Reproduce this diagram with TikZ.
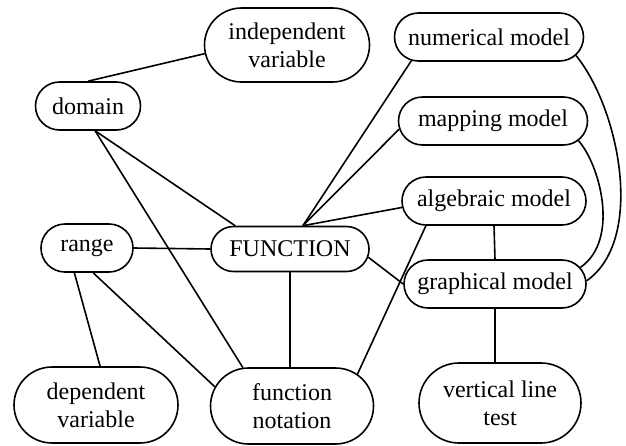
\documentclass[tikz,border=0pt]{standalone}
\usepackage{fontspec}
\setmainfont{Liberation Serif}
\usetikzlibrary{shapes.misc}

\tikzset{
  concept/.style={draw, rounded rectangle, line width=0.8pt, align=center,
    inner sep=2pt, minimum height=24pt,
    font=\fontsize{12}{14}\selectfont},
  tall/.style={concept, minimum height=38pt},
  link/.style={line width=0.8pt}
}

\begin{document}
\begin{tikzpicture}[x=0.5pt, y=-0.5pt]

% Picture frame (pixels of the original)
\useasboundingbox (0,0) rectangle (626,445);

% Concepts
\node[tall, minimum width=86.5pt, minimum height=37pt] (indep) at (287,45) {independent\\variable};
\node[concept, minimum width=56.5pt] (dom) at (88,106) {domain};
\node[concept, minimum width=98.5pt] (num) at (489,37) {numerical model};
\node[concept, minimum width=98.5pt] (map) at (493,121) {mapping model};
\node[concept, minimum width=96pt] (alg) at (494,201) {algebraic model};
\node[concept, minimum width=83pt, minimum height=22.5pt] (func) at (290,249) {FUNCTION};
\node[concept, minimum width=50pt] (rng) at (87,248) {range};
\node[concept, minimum width=95pt] (graph) at (495,284) {graphical model};
\node[tall, minimum width=86pt] (dep) at (96,405) {dependent\\variable};
\node[tall, minimum width=85.5pt] (fnot) at (292,406) {function\\notation};
\node[tall, minimum width=85pt, minimum height=40pt] (vlt) at (500,403) {vertical line\\test};

% Straight links
\draw[link] (dom.north) -- (indep.186);
\draw[link] (dom.-74) -- (func.157);
\draw[link] (dom.-74) -- (fnot.142);
\draw[link] (func.61) -- (num.197);
\draw[link] (func.61) -- (map.185);
\draw[link] (func.61) -- (alg.184);
\draw[link] (rng.east) -- (func.west);
\draw[link] (func.-6) -- (graph.west);
\draw[link] (alg.200) -- (fnot.26);
\draw[link] (func.south) -- (func.south |- fnot.north);
\draw[link] (rng.243) -- (dep.84);
\draw[link] (rng.-76) -- (fnot.166);
\draw[link] (alg.south) -- (graph.north);
\draw[link] (graph.south) -- (graph.south |- vlt.north);

% Curved links on the right
\draw[link] (num.-12) .. controls (620,110) and (645,240) .. (graph.2);
\draw[link] (map.-13) .. controls (600,165) and (620,240) .. (graph.11);

\end{tikzpicture}
\end{document}
